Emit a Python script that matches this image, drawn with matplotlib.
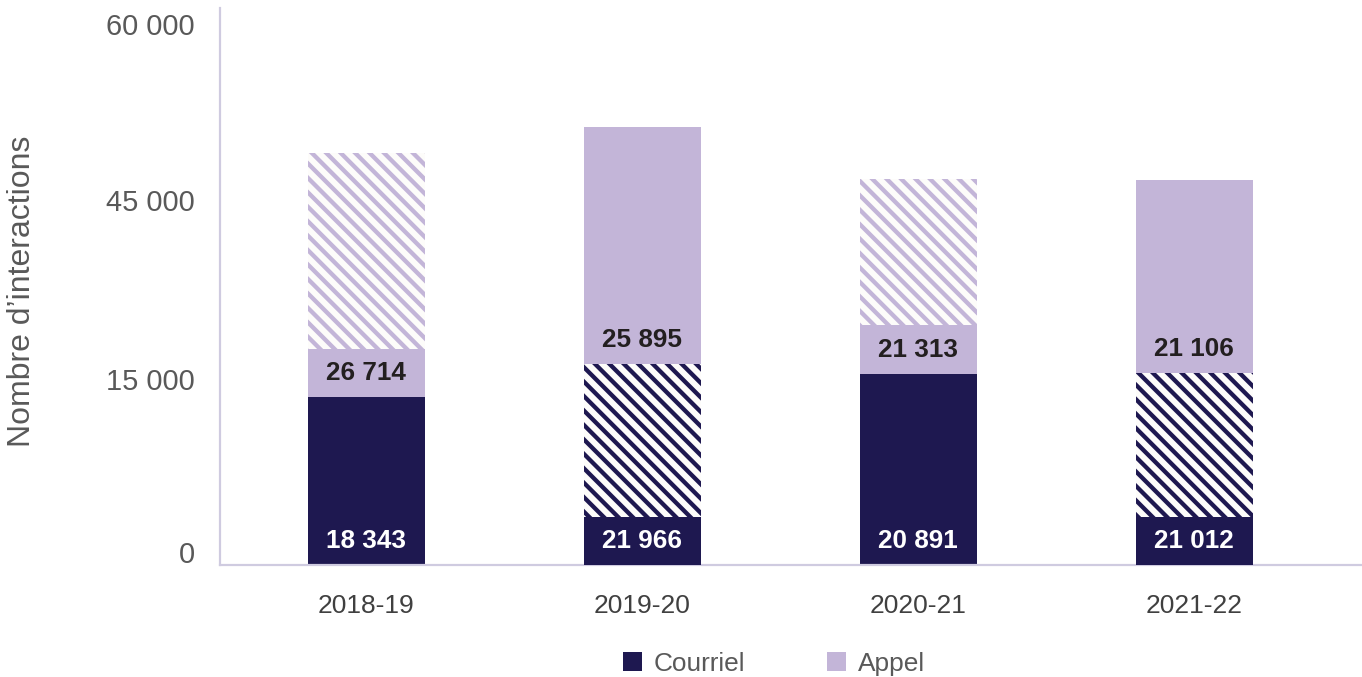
import matplotlib
matplotlib.use("Agg")
import matplotlib.pyplot as plt
from matplotlib.patches import Patch

# ---- data ----
years = ["2018-19", "2019-20", "2020-21", "2021-22"]
courriel = [18343, 21966, 20891, 21012]
appel = [26714, 25895, 21313, 21106]
ytick_labels = ["0", "15 000", "45 000", "60 000"]
ytick_values = [1400, 20300, 39900, 59100]

# ---- style ----
DPI = 130
def pt(px):
    return px * 72.0 / DPI

NAVY = "#1e1850"
LAV = "#c3b5d8"
WHITE_FACE = "#fdfcfa"
GRAY = "#595959"
SPINE = "#cfcbe0"
LABEL_BOX = 5300
courriel_hatched = [False, True, False, True]
appel_hatched = [True, False, True, False]

plt.rcParams["font.family"] = ["Liberation Sans", "DejaVu Sans"]
plt.rcParams["hatch.linewidth"] = pt(4.3)

fig = plt.figure(figsize=(1362 / DPI, 677 / DPI), dpi=DPI)
ax = fig.add_axes([220 / 1362, (677 - 565) / 677, (1362 - 220) / 1362, 557 / 677])

x = list(range(len(years)))
W = 0.425

def fmt(v):
    return f"{v:,}".replace(",", " ")

def draw_segment(xi, bottom, height, color, hatched, txtcolor):
    if hatched:
        ax.bar(xi, height, W, bottom=bottom, facecolor=WHITE_FACE,
               edgecolor=color, hatch="\\\\\\", linewidth=0, zorder=2)
        ax.bar(xi, LABEL_BOX, W, bottom=bottom, color=color, linewidth=0, zorder=3)
    else:
        ax.bar(xi, height, W, bottom=bottom, color=color, linewidth=0, zorder=2)
    ax.text(xi, bottom + LABEL_BOX / 2, fmt(height), ha="center", va="center",
            fontsize=pt(26.2), fontweight="bold", color=txtcolor, zorder=4)

for i in x:
    draw_segment(i, 0, courriel[i], NAVY, courriel_hatched[i], "white")
    draw_segment(i, courriel[i], appel[i], LAV, appel_hatched[i], "#231f20")

ax.set_xlim(-0.530, 3.608)
ax.set_ylim(0, 60900)
ax.set_xticks(x)
ax.set_xticklabels(years)
ax.set_yticks(ytick_values)
ax.set_yticklabels(ytick_labels)
ax.tick_params(axis="y", length=0, pad=pt(25), labelsize=pt(29), labelcolor=GRAY)
ax.tick_params(axis="x", length=0, pad=pt(29), labelsize=pt(26.4), labelcolor="#404040")

for s in ["top", "right"]:
    ax.spines[s].set_visible(False)
for s in ["left", "bottom"]:
    ax.spines[s].set_color(SPINE)
    ax.spines[s].set_linewidth(pt(2.2))

fig.text(22 / 1362, 1 - 291 / 677, "Nombre d\u2019interactions", rotation=90,
         ha="center", va="center", fontsize=pt(32), color=GRAY)

handles = [Patch(facecolor=NAVY, edgecolor="none", label="Courriel"),
           Patch(facecolor=LAV, edgecolor="none", label="Appel")]
fig.legend(handles=handles, loc="center", bbox_to_anchor=(774 / 1362, 1 - 664 / 677),
           ncol=2, frameon=False, fontsize=pt(26.3), labelcolor=GRAY,
           handlelength=0.72, handleheight=0.72, handletextpad=0.46,
           columnspacing=3.1, borderpad=0, borderaxespad=0)

fig.savefig("out.png", dpi=DPI)
